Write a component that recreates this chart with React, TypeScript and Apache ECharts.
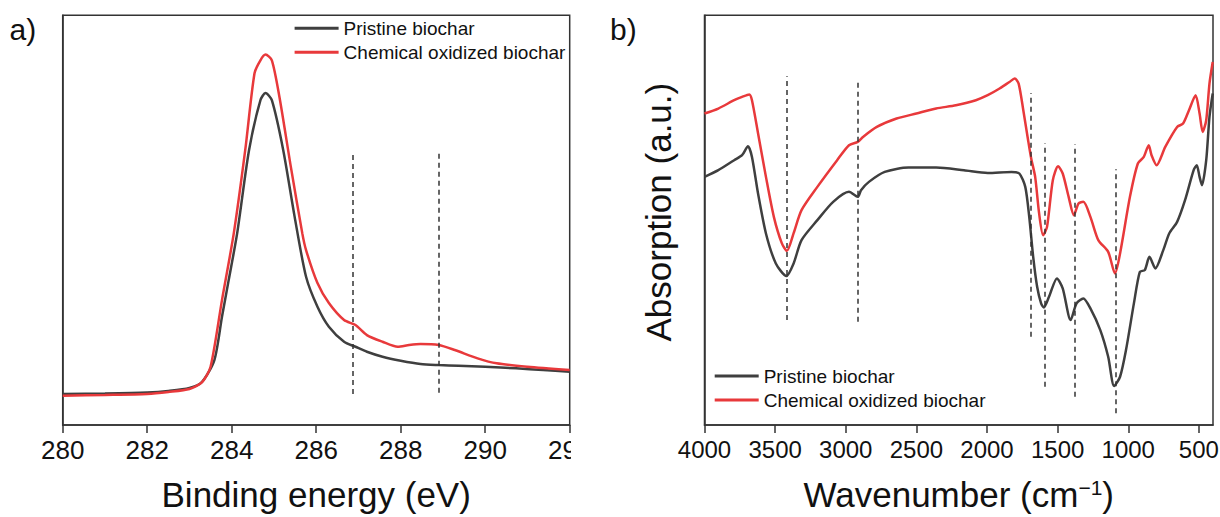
import React, { useEffect, useRef } from "react";
import * as echarts from "echarts";

const FONT = "'Liberation Sans', Arial, Helvetica, sans-serif";
const SERIES_NAMES = ["Pristine biochar", "Chemical oxidized biochar"];
const COLORS = ["#3f3f3f", "#e8393b"];
const AXIS_COLOR = "#333333";
const TEXT_COLOR = "#111111";

// ---- Panel a) XPS C1s ----
const xpsEnergyPristine = [280, 281, 282, 282.5, 283, 283.3, 283.59, 283.77, 283.92, 284.13, 284.41, 284.68, 284.8, 284.95, 285.22, 285.49, 285.76, 286.03, 286.3, 286.66, 286.93, 287.2, 287.57, 288, 288.47, 288.9, 289.37, 290, 290.73, 291.37, 292];
const xpsPristine = [31, 31.5, 32.5, 34, 37, 43.3, 65, 108.3, 143, 192, 275, 325, 332.3, 325, 275, 208.3, 148.3, 118.3, 98.3, 83.3, 78.3, 73.3, 68.3, 64.3, 61, 60, 59.3, 58.3, 56.7, 55, 53.3];
const xpsEnergyOxidized = [280, 281, 282, 282.5, 283, 283.3, 283.5, 283.77, 284.05, 284.32, 284.54, 284.68, 284.8, 284.95, 285.13, 285.4, 285.67, 285.76, 286.03, 286.3, 286.66, 286.93, 287.2, 287.57, 287.93, 288.2, 288.47, 288.9, 289.28, 289.82, 290.27, 291, 292];
const xpsOxidized = [29.3, 30, 31, 33, 36, 43, 58.3, 125, 192, 275, 352, 365, 370.7, 365, 328.3, 258.3, 192, 175, 142, 122, 105, 100, 90, 83.3, 78.3, 80, 81, 80, 75, 66.7, 61.7, 58.3, 55];
const xpsPeakLines = [286.87, 288.9];
const xpsPeakLow = [31, 32.3];
const xpsPeakHigh = [271, 271.7];

// ---- Panel b) FTIR ----
const ftirWaveOxidized = [4000, 3902, 3790, 3734, 3683, 3664, 3621, 3565, 3509, 3453, 3417, 3369, 3313, 3201, 3061, 2977, 2915, 2878, 2780, 2640, 2500, 2360, 2220, 2079, 1995, 1911, 1841, 1804, 1776, 1743, 1709, 1687, 1659, 1631, 1603, 1575, 1534, 1497, 1464, 1422, 1385, 1352, 1318, 1268, 1212, 1142, 1094, 1058, 988, 932, 890, 855, 835, 799, 738, 654, 612, 570, 523, 495, 473, 448, 425, 402];
const ftirOxidized = [311.7, 316.7, 325, 328.3, 330.7, 325, 292, 248.3, 208.3, 182, 174.3, 192, 215, 238.3, 265, 280, 283.3, 288.3, 298.3, 306.7, 311.7, 316.7, 320, 325, 330, 336.7, 343.3, 346.7, 341.7, 315, 285, 266.7, 248.3, 211.7, 190, 198.3, 245, 259, 251.7, 228.3, 210, 221.7, 223.3, 208.3, 185, 173.3, 151.7, 171.7, 228.3, 261.7, 268.3, 280, 270, 260, 278.3, 298.3, 301.7, 315, 330, 311.7, 293.3, 305, 341.7, 363.3];
const ftirWavePristine = [4000, 3902, 3790, 3734, 3692, 3664, 3621, 3565, 3495, 3420, 3369, 3313, 3201, 3089, 2977, 2915, 2892, 2836, 2724, 2556, 2360, 2163, 1995, 1827, 1771, 1729, 1701, 1673, 1645, 1617, 1598, 1561, 1505, 1464, 1408, 1366, 1318, 1268, 1198, 1142, 1100, 1058, 1016, 960, 918, 883, 850, 808, 752, 710, 654, 598, 537, 515, 495, 478, 448, 425, 402];
const ftirPristine = [248.3, 255, 265, 270, 279, 268.3, 231.7, 191.7, 161.7, 149, 161.7, 185, 205, 223.3, 233.3, 228.3, 235, 243.3, 253.3, 257.7, 257.7, 255, 252.3, 253.3, 251.7, 238.3, 208.3, 168.3, 138.3, 121.7, 117.7, 128.3, 146.7, 136.7, 105, 121.7, 126.7, 116.7, 95, 68.3, 39, 48.3, 75, 121.7, 153.3, 155, 168.3, 156.7, 175, 191.7, 203.3, 225, 255, 260, 248.3, 240, 265, 308.3, 331.7];
const ftirPeakLines = [3416, 2914, 1687, 1589, 1376, 1090];
const ftirPeakLow = [105, 103.3, 88.3, 38.3, 28.3, 11.7];
const ftirPeakHigh = [349, 346, 332.3, 282, 281, 256];
const ftirTicks = [4000, 3500, 3000, 2500, 2000, 1500, 1000, 500];

const zip = (xs: number[], ys: number[]) => xs.map((x, i) => [x, ys[i]]);

const tickLine = { lineStyle: { color: AXIS_COLOR, width: 1.5 } };
const plainNumber = (v: number) => String(v);

function peakMarkLine(xs: number[], lo: number[], hi: number[]) {
  return {
    silent: true,
    symbol: ["none", "none"],
    label: { show: false },
    emphasis: { disabled: true },
    lineStyle: { type: [5, 4], color: AXIS_COLOR, width: 1.5 },
    data: xs.map((x, i) => [{ coord: [x, lo[i]] }, { coord: [x, hi[i]] }]),
  };
}

function lineSeries(name: string, data: number[][], color: string, extra: any = {}) {
  return {
    type: "line",
    name,
    data,
    showSymbol: false,
    symbol: "none",
    smooth: 0.25,
    lineStyle: { width: 2.5, color },
    itemStyle: { color },
    emphasis: { disabled: true },
    ...extra,
  };
}

function legendAt(left: number, top: number) {
  return {
    left,
    top,
    padding: 0,
    orient: "vertical",
    icon: "rect",
    itemWidth: 44,
    itemHeight: 3,
    itemGap: 4,
    selectedMode: false,
    textStyle: { fontSize: 19, color: TEXT_COLOR, fontFamily: FONT, lineHeight: 20 },
    data: SERIES_NAMES,
  };
}

const yAxisPlain = {
  type: "value",
  min: 0,
  max: 410,
  axisLine: { show: true, lineStyle: { color: AXIS_COLOR, width: 1.5 } },
  axisTick: { show: false },
  axisLabel: { show: false },
  splitLine: { show: false },
};

function optionA() {
  return {
    animation: false,
    textStyle: { fontFamily: FONT },
    grid: {
      left: 62.7, right: 1.3, top: 15.3, bottom: 92,
      show: true, borderColor: AXIS_COLOR, borderWidth: 1.5,
      containLabel: false, outerBoundsMode: "none",
    },
    legend: legendAt(294.6, 18.3),
    graphic: [
      { type: "text", left: 9.6, top: 14, style: { text: "a)", fontSize: 30, fill: TEXT_COLOR, fontFamily: FONT } },
    ],
    xAxis: {
      type: "value",
      min: 280,
      max: 292,
      interval: 2,
      axisLine: { show: true, lineStyle: { color: AXIS_COLOR, width: 1.5 } },
      axisTick: { show: true, length: 8, ...tickLine },
      axisLabel: { fontSize: 26, color: TEXT_COLOR, margin: 12, fontFamily: FONT, showMinLabel: true, showMaxLabel: true, formatter: plainNumber },
      splitLine: { show: false },
      name: "Binding energy (eV)",
      nameLocation: "middle",
      nameGap: 52,
      nameTextStyle: { fontSize: 35, color: TEXT_COLOR, fontFamily: FONT },
    },
    yAxis: yAxisPlain,
    series: [
      lineSeries(SERIES_NAMES[0], zip(xpsEnergyPristine, xpsPristine), COLORS[0], {
        markLine: peakMarkLine(xpsPeakLines, xpsPeakLow, xpsPeakHigh),
      }),
      lineSeries(SERIES_NAMES[1], zip(xpsEnergyOxidized, xpsOxidized), COLORS[1]),
    ],
  };
}

function optionB() {
  return {
    animation: false,
    textStyle: { fontFamily: FONT },
    grid: {
      left: 133.5, right: 7, top: 15.3, bottom: 92,
      show: true, borderColor: AXIS_COLOR, borderWidth: 1.5,
      containLabel: false, outerBoundsMode: "none",
    },
    legend: legendAt(143.7, 366),
    graphic: [
      { type: "text", left: 39, top: 14, style: { text: "b)", fontSize: 30, fill: TEXT_COLOR, fontFamily: FONT } },
    ],
    xAxis: {
      type: "value",
      min: 400,
      max: 4000,
      inverse: true,
      axisLine: { show: true, lineStyle: { color: AXIS_COLOR, width: 1.5 } },
      axisTick: { show: true, length: 8, customValues: ftirTicks, ...tickLine },
      axisLabel: { fontSize: 24, color: TEXT_COLOR, margin: 12, fontFamily: FONT, customValues: ftirTicks, formatter: plainNumber },
      splitLine: { show: false },
      name: "{a|Wavenumber (cm}{s|−1}{a|)}",
      nameLocation: "middle",
      nameGap: 52,
      nameTextStyle: {
        color: TEXT_COLOR,
        fontFamily: FONT,
        fontSize: 35,
        rich: {
          a: { fontSize: 35, color: TEXT_COLOR, fontFamily: FONT },
          s: { fontSize: 21, color: TEXT_COLOR, fontFamily: FONT, verticalAlign: "top" },
        },
      },
    },
    yAxis: {
      ...yAxisPlain,
      name: "Absorption (a.u.)",
      nameLocation: "middle",
      nameGap: 29,
      nameTextStyle: { fontSize: 35, color: TEXT_COLOR, fontFamily: FONT, padding: [0, 0, 0, 16] },
    },
    series: [
      lineSeries(SERIES_NAMES[0], zip(ftirWavePristine, ftirPristine), COLORS[0], {
        markLine: peakMarkLine(ftirPeakLines, ftirPeakLow, ftirPeakHigh),
      }),
      lineSeries(SERIES_NAMES[1], zip(ftirWaveOxidized, ftirOxidized), COLORS[1]),
    ],
  };
}

export default function App() {
  const refA = useRef<HTMLDivElement>(null);
  const refB = useRef<HTMLDivElement>(null);

  useEffect(() => {
    const chartA = echarts.init(refA.current!, null, { renderer: "svg" });
    const chartB = echarts.init(refB.current!, null, { renderer: "svg" });
    chartA.setOption(optionA() as any);
    chartB.setOption(optionB() as any);
    return () => {
      chartA.dispose();
      chartB.dispose();
    };
  }, []);

  return (
    <div style={{ position: "absolute", left: 0, top: 0, width: 1220, height: 517, background: "#fff", overflow: "hidden" }}>
      <div ref={refA} style={{ position: "absolute", left: 0, top: 0, width: 571, height: 517, overflow: "hidden" }} />
      <div ref={refB} style={{ position: "absolute", left: 571, top: 0, width: 649, height: 517 }} />
    </div>
  );
}
